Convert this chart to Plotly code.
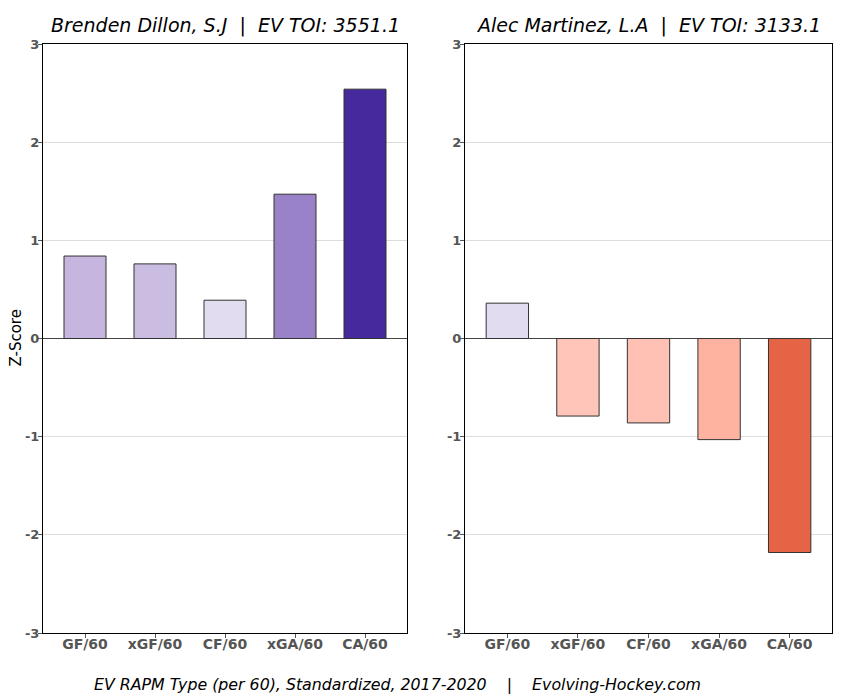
import plotly.graph_objects as go
from plotly.subplots import make_subplots

categories = ["GF/60", "xGF/60", "CF/60", "xGA/60", "CA/60"]
dillon_values = [0.84, 0.76, 0.39, 1.47, 2.54]
martinez_values = [0.36, -0.79, -0.86, -1.03, -2.18]
dillon_colors = ["#c6b6df", "#cbbde2", "#e2dcf0", "#9a82c8", "#46299c"]
martinez_colors = ["#e2dcf0", "#fec5b8", "#fec1b3", "#fdb39f", "#e56445"]
titles = ["Brenden Dillon, S.J  |  EV TOI: 3551.1", "Alec Martinez, L.A  |  EV TOI: 3133.1"]
yticks = [-3, -2, -1, 0, 1, 2, 3]
ytick_labels = ["-3", "-2", "-1", "0", "1", "2", "3"]

FONT = "DejaVu Sans"

# figure-pixel layout (page has an 8px body offset)
L, R, T, B = 35, 824, 36, 625
W, H = 850, 700
PW, PH = R - L, B - T

fig = make_subplots(rows=1, cols=2)

for i, (vals, cols) in enumerate([(dillon_values, dillon_colors), (martinez_values, martinez_colors)]):
    fig.add_trace(go.Bar(x=categories, y=vals, width=0.6,
                         marker=dict(color=cols, line=dict(color="#333333", width=1)),
                         showlegend=False), row=1, col=i + 1)

domains = [[0, (399 - L) / PW], [(457 - L) / PW, 1]]
for i in range(2):
    xa = "xaxis" if i == 0 else "xaxis2"
    ya = "yaxis" if i == 0 else "yaxis2"
    fig.update_layout({
        xa: dict(domain=domains[i], range=[-0.6, 4.6], showline=True, linecolor="black", linewidth=1, mirror=True,
                 ticks="outside", ticklen=4, tickcolor="#555555", automargin=False, ticklabelstandoff=-6,
                 tickfont=dict(family=FONT, size=14, color="#555555", weight="bold"),
                 showgrid=False),
        ya: dict(range=[-3, 3], tickvals=yticks, ticktext=ytick_labels, showline=True, linecolor="black",
                 linewidth=1, mirror=True, automargin=False, ticklabelstandoff=-4,
                 ticks="outside", ticklen=4, tickcolor="#555555",
                 tickfont=dict(family=FONT, size=13, color="#555555", weight="bold"),
                 showgrid=True, gridcolor="#dddddd", gridwidth=1,
                 zeroline=True, zerolinecolor="#444444", zerolinewidth=1.2),
    })

fig.update_layout(
    width=W, height=H,
    paper_bgcolor="white", plot_bgcolor="white",
    margin=dict(l=L, r=W - R, t=T, b=H - B),
    font=dict(family=FONT, color="black"),
)

def px(x):
    return (x - L) / PW

def py(y):
    return (B - y) / PH

title_centers = [(L + 399) / 2, (457 + R) / 2]
for t, cx in zip(titles, title_centers):
    fig.add_annotation(text=f"<i>{t}</i>", x=px(cx), xref="paper", xanchor="center",
                       y=py(18), yref="paper", yanchor="middle", showarrow=False,
                       font=dict(family=FONT, size=19, color="black"))

fig.add_annotation(text="Z-Score", textangle=-90, x=px(7), xref="paper", xanchor="center",
                   y=py((T + B) / 2), yref="paper", yanchor="middle", showarrow=False,
                   font=dict(family=FONT, size=15, color="black"))

fig.add_annotation(text="<i>EV RAPM Type (per 60), Standardized, 2017-2020    |    Evolving-Hockey.com</i>",
                   x=px(389), xref="paper", xanchor="center", y=py(676), yref="paper", yanchor="middle",
                   showarrow=False, font=dict(family=FONT, size=15.8, color="black"))

fig.write_html("out.html")
